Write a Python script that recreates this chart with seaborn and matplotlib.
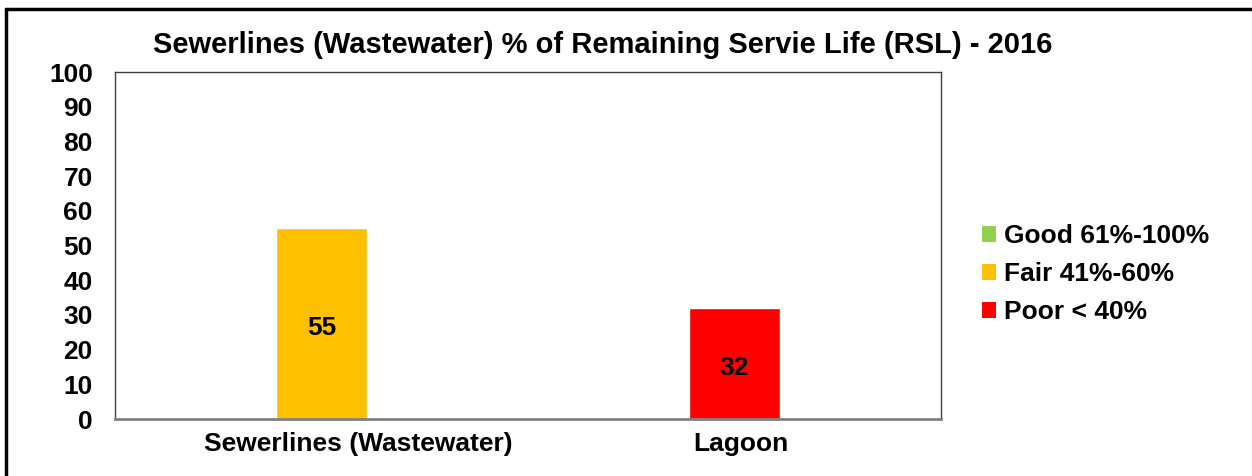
import pandas as pd
import seaborn as sns
import matplotlib.pyplot as plt
import matplotlib.transforms as mtransforms
from matplotlib.patches import Patch
from matplotlib.lines import Line2D

categories = ['Sewerlines (Wastewater)', 'Lagoon']
rsl_values = [55, 32]
conditions = ['Fair', 'Poor']

legend_labels = ['Good 61%-100%', 'Fair 41%-60%', 'Poor < 40%']
condition_colors = {'Good': '#92D050', 'Fair': '#FFC000', 'Poor': '#FF0000'}

df = pd.DataFrame({'Asset': categories, 'RSL': rsl_values, 'Condition': conditions})

sns.set_style('white')
plt.rcParams['font.family'] = ['Liberation Sans', 'DejaVu Sans']
plt.rcParams['font.weight'] = 'bold'
plt.rcParams['text.color'] = 'black'
plt.rcParams['xtick.color'] = 'black'
plt.rcParams['ytick.color'] = 'black'

fig = plt.figure(figsize=(12.52, 4.76), dpi=100)
ax = fig.add_axes([0.0919, 0.1197, 0.6597, 0.729])

sns.barplot(data=df, x='Asset', y='RSL', hue='Condition', palette=condition_colors,
            width=0.22, legend=False, ax=ax, saturation=1)

# value labels, nudged slightly below the bar middle like the original
for cont in ax.containers:
    for t in ax.bar_label(cont, label_type='center', fontsize=19, fontweight='bold', color='black'):
        t.xyann = (0, -3)

ax.set_ylim(0, 100)
ax.set_xlim(-0.5, 1.5)
ax.set_yticks(range(0, 101, 10))
ax.set_xlabel('')
ax.set_ylabel('')
ax.tick_params(axis='y', length=0, pad=16, labelsize=19)
ax.tick_params(axis='x', length=0, pad=9, labelsize=19)
for lbl in ax.get_xticklabels() + ax.get_yticklabels():
    lbl.set_fontweight('bold')

# category labels sit a little right of the bars in the original
for lbl, dx in zip(ax.get_xticklabels(), [0.37, 0.06]):
    lbl.set_transform(lbl.get_transform() + mtransforms.ScaledTranslation(dx, 0, fig.dpi_scale_trans))

for side in ['left', 'top', 'right']:
    ax.spines[side].set_color('#404040')
    ax.spines[side].set_linewidth(1)
ax.spines['bottom'].set_color('#808080')
ax.spines['bottom'].set_linewidth(2)

fig.text(0.481, 0.906, 'Sewerlines (Wastewater) % of Remaining Servie Life (RSL) - 2016',
         ha='center', va='center', fontsize=21, fontweight='bold')

handles = [Patch(facecolor=condition_colors[c], edgecolor='none') for c in ['Good', 'Fair', 'Poor']]
fig.legend(handles, legend_labels, loc='center left', bbox_to_anchor=(0.765, 0.424),
           frameon=False, prop={'size': 19, 'weight': 'bold'},
           handlelength=0.55, handleheight=0.55, handletextpad=0.3, labelspacing=0.52)

# outer frame (top and left edges visible)
fig.add_artist(Line2D([6 / 1252, 1], [1 - 9 / 476, 1 - 9 / 476], color='black', lw=2.5,
                      transform=fig.transFigure))
fig.add_artist(Line2D([6 / 1252, 6 / 1252], [0, 1 - 9 / 476], color='black', lw=2.5,
                      transform=fig.transFigure))

fig.savefig('out.png', dpi=100)
